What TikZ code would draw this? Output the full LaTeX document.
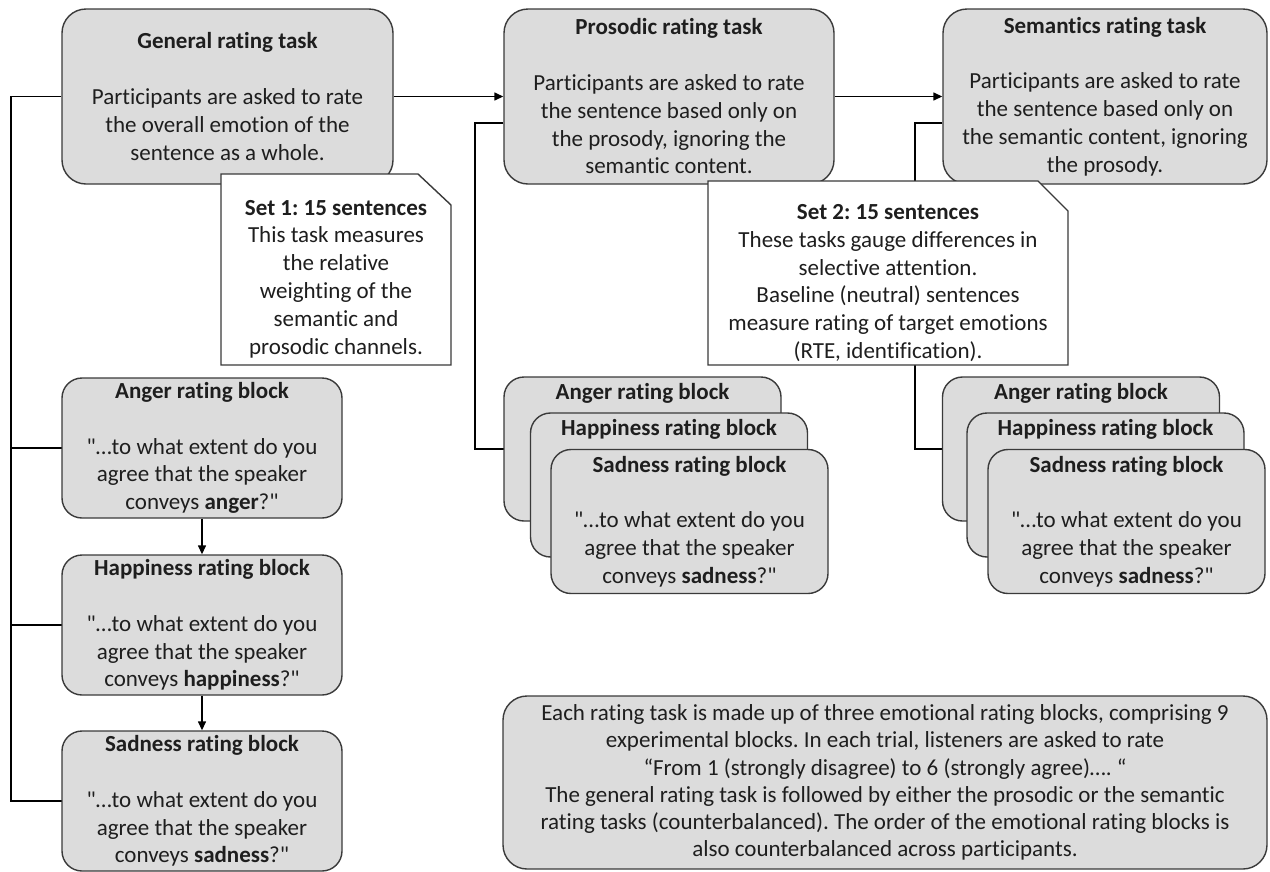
\documentclass[tikz,border=0pt]{standalone}
\usepackage{fontspec}
\newfontfamily\calfont{Carlito}[Ligatures=NoCommon]
\usetikzlibrary{arrows.meta}
\definecolor{boxfill}{HTML}{DCDCDC}
\definecolor{boxline}{HTML}{3A3A3A}
\definecolor{txt}{HTML}{1E1E1E}
\frenchspacing
\tikzset{
  txtfont/.style={font=\calfont\fontsize{23}{27.8}\selectfont, text=txt},
  box/.style={draw=boxline, fill=boxfill, line width=1.4pt, rounded corners=24pt,
    align=center, inner sep=0pt, txtfont},
  blockbox/.style={box, rounded corners=20pt, minimum width=277pt, minimum height=144pt},
  leftblock/.style={box, rounded corners=20pt, minimum width=280pt, minimum height=140pt},
  notebox/.style={draw=boxline, fill=white, line width=1.4pt},
  notetext/.style={align=center, inner sep=0pt, txtfont},
  conn/.style={draw=black, line width=1.4pt},
  arr/.style={conn, -{Triangle[length=9pt,width=8pt]}},
}
\newcommand{\qtext}[1]{"…to what extent do you\\ agree that the speaker\\ conveys \textbf{#1}?"}
% covered block: only the title shows, the rest of the box is hidden behind the next one
\newcommand{\hidtext}{\mbox{}\\ \mbox{}\\ \vphantom{y}\mbox{}}
\begin{document}
\begin{tikzpicture}[x=1pt,y=-1pt]
\useasboundingbox (0,0) rectangle (1270,871);

% named coordinates for connector corners
\coordinate (L) at (11,0);
\coordinate (P) at (475,123);
\coordinate (S) at (915,123);

% task boxes
\node[box, minimum width=331pt, minimum height=175pt] (gen) at (227.5,96.5)
  {\textbf{General rating task}\\[27.8pt] Participants are asked to rate\\ the overall emotion of the\\ sentence as a whole.};
\node[box, minimum width=330pt, minimum height=175pt] (pro) at (669,96.5)
  {\textbf{Prosodic rating task}\\[27.8pt] Participants are asked to rate\\ the sentence based only on\\ the prosody, ignoring the\\ semantic content.};
\node[box, minimum width=324pt, minimum height=175pt] (sem) at (1105,96.5)
  {\textbf{Semantics rating task}\\[27.8pt] Participants are asked to rate\\ the sentence based only on\\ the semantic content, ignoring\\ the prosody.};

% connector lines (behind blocks)
\draw[conn] (gen.west) -- (gen.west -| L) -- (L |- 0,801) -- (62,801);
\draw[conn] (P -| pro.west) -- (P) |- (515,449);
\draw[conn] (S -| sem.west) -- (S) |- (955,449);
\draw[conn] (L |- 0,448) -- (70,448);
\draw[conn] (L |- 0,625) -- (70,625);

% left column blocks
\node[leftblock] (angL) at (202,448) {\textbf{Anger rating block}\\[27.8pt]\qtext{anger}};
\node[leftblock] (hapL) at (202,625) {\textbf{Happiness rating block}\\[27.8pt]\qtext{happiness}};
\node[leftblock] (sadL) at (202,801) {\textbf{Sadness rating block}\\[27.8pt]\qtext{sadness}};

% middle stack
\node[blockbox] (angM) at (642.5,449) {\textbf{Anger rating block}\\[27.8pt]\hidtext};
\node[blockbox] (hapM) at (669,485) {\textbf{Happiness rating block}\\[27.8pt]\hidtext};
\node[blockbox] (sadM) at (689.5,521.5) {\textbf{Sadness rating block}\\[27.8pt]\qtext{sadness}};

% right stack
\node[blockbox] (angR) at (1081,449) {\textbf{Anger rating block}\\[27.8pt]\hidtext};
\node[blockbox] (hapR) at (1105.5,485) {\textbf{Happiness rating block}\\[27.8pt]\hidtext};
\node[blockbox] (sadR) at (1126.5,521.5) {\textbf{Sadness rating block}\\[27.8pt]\qtext{sadness}};

% arrows
\draw[arr] (gen.east) -- (pro.west);
\draw[arr] (pro.east) -- (sem.west);
\draw[arr] (angL.south) -- (hapL.north);
\draw[arr] (hapL.south) -- (sadL.north);

% notes
\draw[notebox] (221,174) -- (418,174) -- (451,205) -- (451,365) -- (221,365) -- cycle;
\node[notetext] (set1) at (336,279)
  {\textbf{Set 1: 15 sentences}\\ This task measures\\ the relative\\ weighting of the\\ semantic and\\ prosodic channels.};
\draw[notebox] (708,181) -- (1038,181) -- (1068,211) -- (1068,365) -- (708,365) -- cycle;
\node[notetext] (set2) at (888,283)
  {\textbf{Set 2: 15 sentences}\\ These tasks gauge differences in\\ selective attention.\\ Baseline (neutral) sentences\\ measure rating of target emotions\\ (RTE, identification).};

% summary box
\node[box, font=\calfont\fontsize{23}{27.2}\selectfont, minimum width=764pt, minimum height=173pt] (sum) at (885,782.5)
  {Each rating task is made up of three emotional rating blocks, comprising 9\\
   experimental blocks. In each trial, listeners are asked to rate\\
   “From 1 (strongly disagree) to 6 (strongly agree)…. “\\
   The general rating task is followed by either the prosodic or the semantic\\
   rating tasks (counterbalanced). The order of the emotional rating blocks is\\
   also counterbalanced across participants.};
\end{tikzpicture}
\end{document}
